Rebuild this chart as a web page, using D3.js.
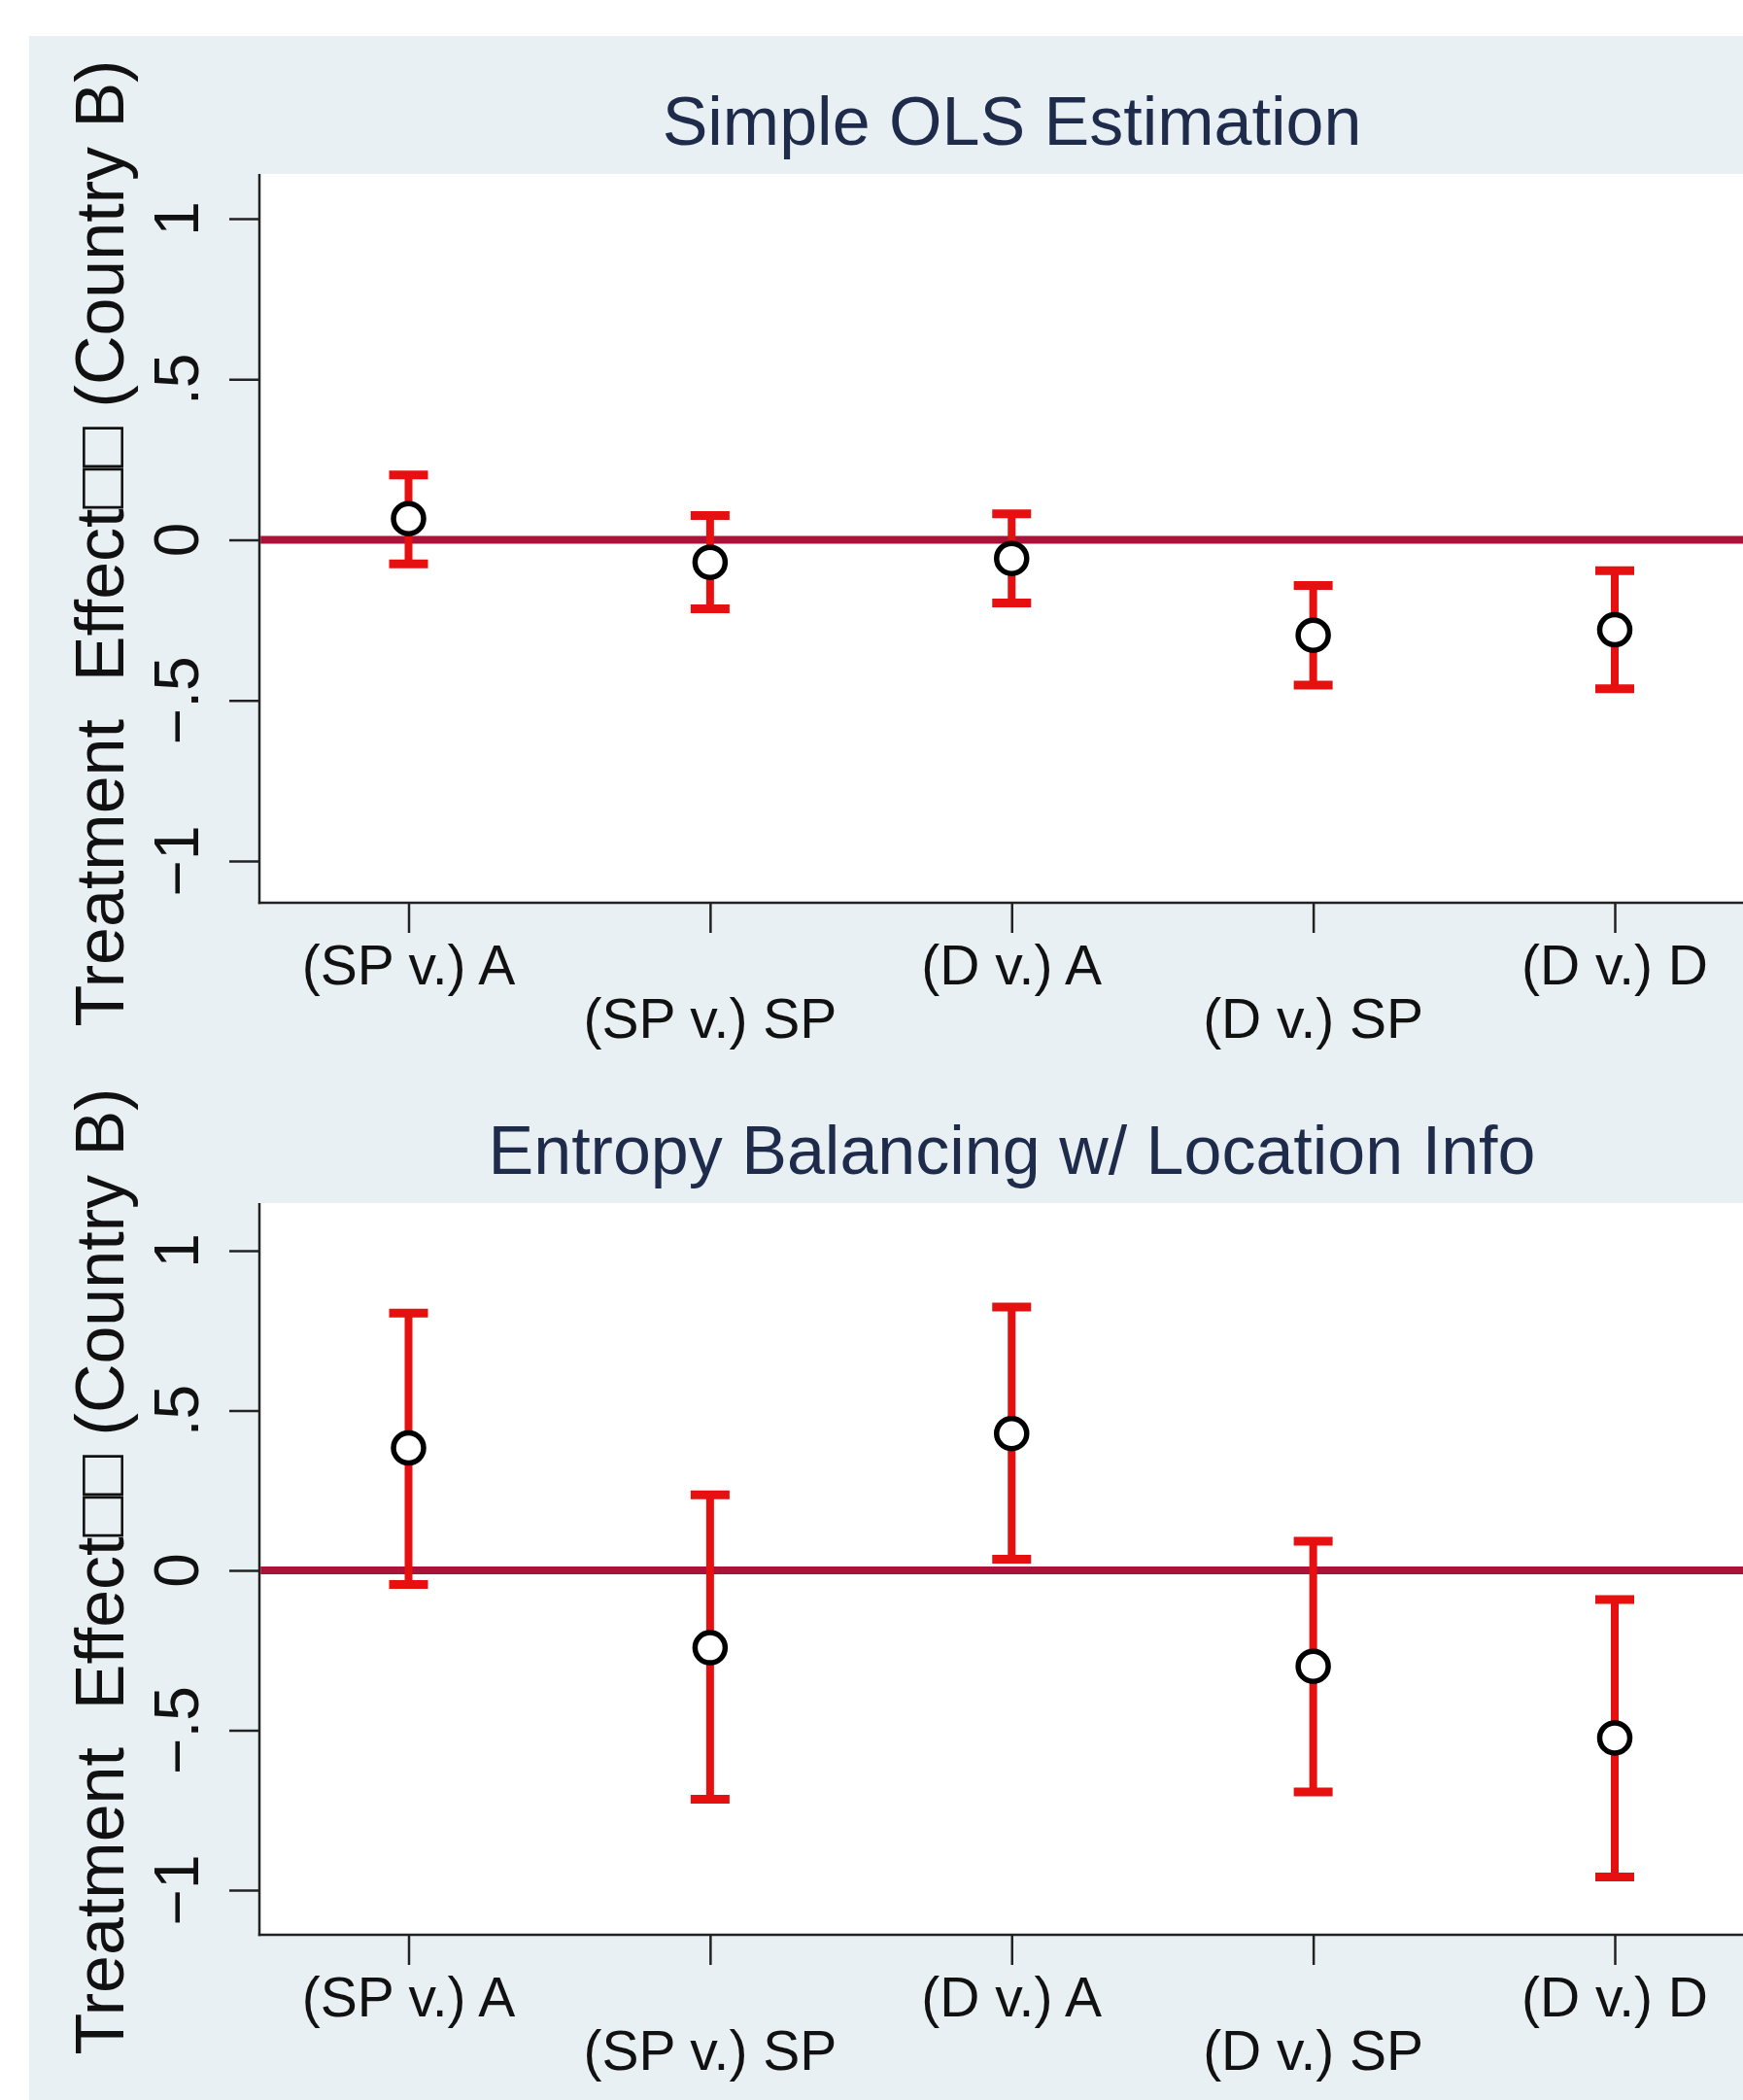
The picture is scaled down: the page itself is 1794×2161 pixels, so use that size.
<!DOCTYPE html>
<html>
<head>
<meta charset="utf-8">
<script src="https://cdn.jsdelivr.net/npm/d3@7"></script>
<style>
  html, body { margin: 0; padding: 0; background: #ffffff; }
  svg { display: block; }
  text { font-family: "Liberation Sans", Arial, Helvetica, sans-serif; white-space: pre; }
</style>
</head>
<body>
<script>
// ---------------- data ----------------
const categories = ["(SP v.) A", "(SP v.) SP", "(D v.) A", "(D v.) SP", "(D v.) D"];

const olsEstimate = [0.066, -0.070, -0.058, -0.297, -0.280];
const olsLower    = [-0.075, -0.215, -0.197, -0.452, -0.464];
const olsUpper    = [0.202, 0.076, 0.081, -0.142, -0.096];

const ebEstimate  = [0.383, -0.242, 0.428, -0.300, -0.524];
const ebLower     = [-0.044, -0.716, 0.035, -0.693, -0.959];
const ebUpper     = [0.805, 0.236, 0.824, 0.091, -0.091];

const yTickValues = [-1, -0.5, 0, 0.5, 1];
const yTickLabels = ["\u22121", "\u2212.5", "0", ".5", "1"];

const panelTitles = ["Simple OLS Estimation", "Entropy Balancing w/ Location Info"];
const yAxisTitle = "Treatment  Effect\u25A1\u25A1 (Country B)";

// ---------------- layout ----------------
const W = 1794, H = 2161;
const plotLeft = 267, plotRight = 1816;

const panels = [
  { title: panelTitles[0], est: olsEstimate, lo: olsLower, hi: olsUpper,
    top: 179, bottom: 929, yPos1: 225, yNeg1: 886, titleY: 149, labelY: 559 },
  { title: panelTitles[1], est: ebEstimate, lo: ebLower, hi: ebUpper,
    top: 1238, bottom: 1991, yPos1: 1287, yNeg1: 1945, titleY: 1208, labelY: 1617 }
];

const svg = d3.select("body").append("svg")
  .attr("width", W).attr("height", H);

// outer background
svg.append("rect").attr("x", 0).attr("y", 0).attr("width", W).attr("height", H).attr("fill", "#ffffff");
svg.append("rect").attr("x", 30).attr("y", 37).attr("width", W - 30).attr("height", H - 37).attr("fill", "#e9f0f3");

const x = d3.scalePoint().domain(categories).range([420.5, 1662]);

panels.forEach(p => {
  const y = d3.scaleLinear().domain([-1, 1]).range([p.yNeg1, p.yPos1]);
  const g = svg.append("g");

  // plot region
  g.append("rect")
    .attr("x", plotLeft).attr("y", p.top)
    .attr("width", plotRight - plotLeft).attr("height", p.bottom - p.top)
    .attr("fill", "#ffffff");

  // title
  g.append("text")
    .attr("x", (plotLeft + plotRight) / 2).attr("y", p.titleY)
    .attr("text-anchor", "middle")
    .attr("font-size", 70)
    .attr("fill", "#1f2b4b")
    .text(p.title);

  // y axis
  const yAxis = d3.axisLeft(y).tickValues(yTickValues).tickSize(31).tickSizeOuter(0).tickFormat("");
  const ya = g.append("g").attr("transform", `translate(${plotLeft},0)`).call(yAxis);
  ya.select(".domain").remove();
  ya.selectAll(".tick line").attr("stroke", "#222").attr("stroke-width", 2.5);
  g.append("line")
    .attr("x1", plotLeft).attr("x2", plotLeft)
    .attr("y1", p.top).attr("y2", p.bottom + 1.2)
    .attr("stroke", "#222").attr("stroke-width", 2.5);

  // y tick labels (rotated)
  g.selectAll(".ylab").data(yTickValues).enter().append("text")
    .attr("class", "ylab")
    .attr("transform", (d) => `translate(204,${y(d)}) rotate(-90)`)
    .attr("text-anchor", "middle")
    .attr("font-size", 64)
    .attr("fill", "#111")
    .text((d, i) => yTickLabels[i]);

  // y axis title
  g.append("text")
    .attr("transform", `translate(127,${p.labelY}) rotate(-90)`)
    .attr("text-anchor", "middle")
    .attr("font-size", 70)
    .attr("fill", "#111")
    .text(yAxisTitle);

  // x axis
  const xAxis = d3.axisBottom(x).tickSize(31).tickSizeOuter(0).tickFormat("");
  const xa = g.append("g").attr("transform", `translate(0,${p.bottom})`).call(xAxis);
  xa.select(".domain").remove();
  xa.selectAll(".tick line").attr("stroke", "#222").attr("stroke-width", 2.5);
  g.append("line")
    .attr("x1", plotLeft - 1.2).attr("x2", plotRight)
    .attr("y1", p.bottom).attr("y2", p.bottom)
    .attr("stroke", "#222").attr("stroke-width", 2.5);

  // x tick labels, alternating rows
  g.selectAll(".xlab").data(categories).enter().append("text")
    .attr("class", "xlab")
    .attr("x", d => x(d))
    .attr("y", (d, i) => p.bottom + (i % 2 === 0 ? 84 : 139))
    .attr("text-anchor", "middle")
    .attr("font-size", 57)
    .attr("fill", "#111")
    .text(d => d);

  // zero reference line
  g.append("line")
    .attr("x1", plotLeft + 1.2).attr("x2", plotRight)
    .attr("y1", y(0)).attr("y2", y(0))
    .attr("stroke", "#ab1239").attr("stroke-width", 8);

  const rows = categories.map((c, i) => ({ c, est: p.est[i], lo: p.lo[i], hi: p.hi[i] }));

  // error bars
  const eb = g.selectAll(".eb").data(rows).enter().append("g").attr("class", "eb");
  eb.append("line")
    .attr("x1", d => x(d.c)).attr("x2", d => x(d.c))
    .attr("y1", d => y(d.lo)).attr("y2", d => y(d.hi))
    .attr("stroke", "#e5100f").attr("stroke-width", 8);
  eb.append("line")
    .attr("x1", d => x(d.c) - 20).attr("x2", d => x(d.c) + 20)
    .attr("y1", d => y(d.hi)).attr("y2", d => y(d.hi))
    .attr("stroke", "#e5100f").attr("stroke-width", 9);
  eb.append("line")
    .attr("x1", d => x(d.c) - 20).attr("x2", d => x(d.c) + 20)
    .attr("y1", d => y(d.lo)).attr("y2", d => y(d.lo))
    .attr("stroke", "#e5100f").attr("stroke-width", 9);

  // point estimates
  g.selectAll(".pt").data(rows).enter().append("circle")
    .attr("class", "pt")
    .attr("cx", d => x(d.c)).attr("cy", d => y(d.est))
    .attr("r", 15.5)
    .attr("fill", "#ffffff")
    .attr("stroke", "#000")
    .attr("stroke-width", 5.5);
});
</script>
</body>
</html>
